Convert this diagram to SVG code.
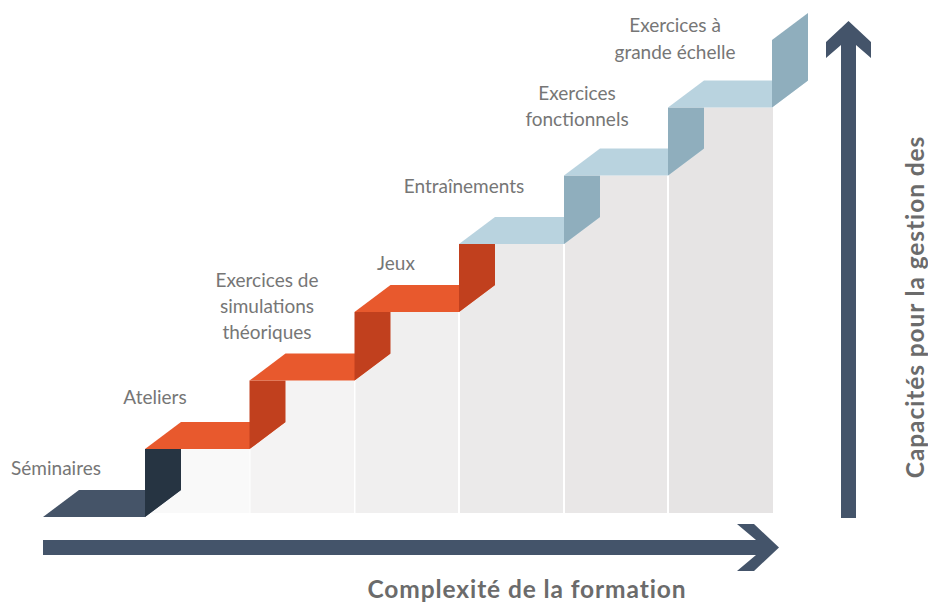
<svg xmlns="http://www.w3.org/2000/svg" width="928" height="602" viewBox="0 0 928 602">
  <style>
    .lbl { font-family: Lato, "Open Sans", "Liberation Sans", sans-serif; font-size: 19px; fill: #767676; text-anchor: middle; }
    .axis-lbl { font-family: Lato, "Open Sans", "Liberation Sans", sans-serif; font-size: 24.5px; font-weight: bold; letter-spacing: 0.9px; fill: #6b6b6b; text-anchor: middle; }
    .dark-tread { fill: #455468; }
    .dark-riser { fill: #263442; }
    .or-tread { fill: #e8592d; }
    .or-riser { fill: #c1401e; }
    .bl-tread { fill: #b9d3df; }
    .bl-riser { fill: #8faebd; }
    .axis { fill: #44546a; }
  </style>

  <rect width="928" height="602" fill="#ffffff"/>

  <!-- columns under the steps -->
  <g id="columns">
    <rect x="145" y="449" width="104.5" height="64" fill="#f9f9f9"/>
    <rect x="250.5" y="380.5" width="103.5" height="132.5" fill="#f4f3f3"/>
    <rect x="355.5" y="312" width="102.5" height="201" fill="#f0efef"/>
    <rect x="460" y="244" width="103" height="269" fill="#ebeaea"/>
    <rect x="565" y="175.5" width="102" height="337.5" fill="#e9e7e7"/>
    <rect x="669" y="107.5" width="104" height="405.5" fill="#e6e4e4"/>
  </g>

  <!-- step 1 -->
  <g id="step-seminaires">
    <polygon class="dark-tread" points="43,517 145,517 181,490 79,490"/>
    <polygon class="dark-riser" points="145,449 181,449 181,490 145,517"/>
    <text class="lbl" x="56" y="475">Séminaires</text>
  </g>

  <!-- step 2 -->
  <g id="step-ateliers">
    <polygon class="or-tread" points="145,449 249.5,449 285.5,422 181,422"/>
    <polygon class="or-riser" points="249.5,380.5 285.5,380.5 285.5,422 249.5,449"/>
    <text class="lbl" x="155" y="404">Ateliers</text>
  </g>

  <!-- step 3 -->
  <g id="step-simulations">
    <polygon class="or-tread" points="249.5,380.5 354.5,380.5 390.5,353.5 285.5,353.5"/>
    <polygon class="or-riser" points="354.5,312 390.5,312 390.5,353.5 354.5,380.5"/>
    <text class="lbl" x="267" y="287">Exercices de</text>
    <text class="lbl" x="267" y="313">simulations</text>
    <text class="lbl" x="267" y="339">théoriques</text>
  </g>

  <!-- step 4 -->
  <g id="step-jeux">
    <polygon class="or-tread" points="354.5,312 459,312 495,285 390.5,285"/>
    <polygon class="or-riser" points="459,244 495,244 495,285 459,312"/>
    <text class="lbl" x="396" y="270">Jeux</text>
  </g>

  <!-- step 5 -->
  <g id="step-entrainements">
    <polygon class="bl-tread" points="459,244 564,244 600,217 495,217"/>
    <polygon class="bl-riser" points="564,175.5 600,175.5 600,217 564,244"/>
    <text class="lbl" x="464" y="193">Entraînements</text>
  </g>

  <!-- step 6 -->
  <g id="step-fonctionnels">
    <polygon class="bl-tread" points="564,175.5 668,175.5 704,148.5 600,148.5"/>
    <polygon class="bl-riser" points="668,107.5 704,107.5 704,148.5 668,175.5"/>
    <text class="lbl" x="577" y="100">Exercices</text>
    <text class="lbl" x="577" y="126">fonctionnels</text>
  </g>

  <!-- step 7 -->
  <g id="step-grande-echelle">
    <polygon class="bl-tread" points="668,107.5 772,107.5 808,80.5 704,80.5"/>
    <polygon class="bl-riser" points="772,40 808,13 808,80.5 772,107.5"/>
    <text class="lbl" x="675" y="32">Exercices à</text>
    <text class="lbl" x="675" y="59">grande échelle</text>
  </g>

  <!-- axes -->
  <g id="connectors">
    <g id="axis-x">
      <polygon class="axis" points="43,540 756,540 737,524 754,524 779,547.5 754,571 737,571 756,555 43,555"/>
    </g>
    <g id="axis-y">
      <polygon class="axis" points="841,518 841,45 826,58 826,42 848.5,21 871,42 871,58 856,45 856,518"/>
    </g>
  </g>

  <text class="axis-lbl" x="527" y="598">Complexité de la formation</text>
  <text class="axis-lbl" transform="translate(924,307) rotate(-90)" x="0" y="0">Capacités pour la gestion des</text>
</svg>
